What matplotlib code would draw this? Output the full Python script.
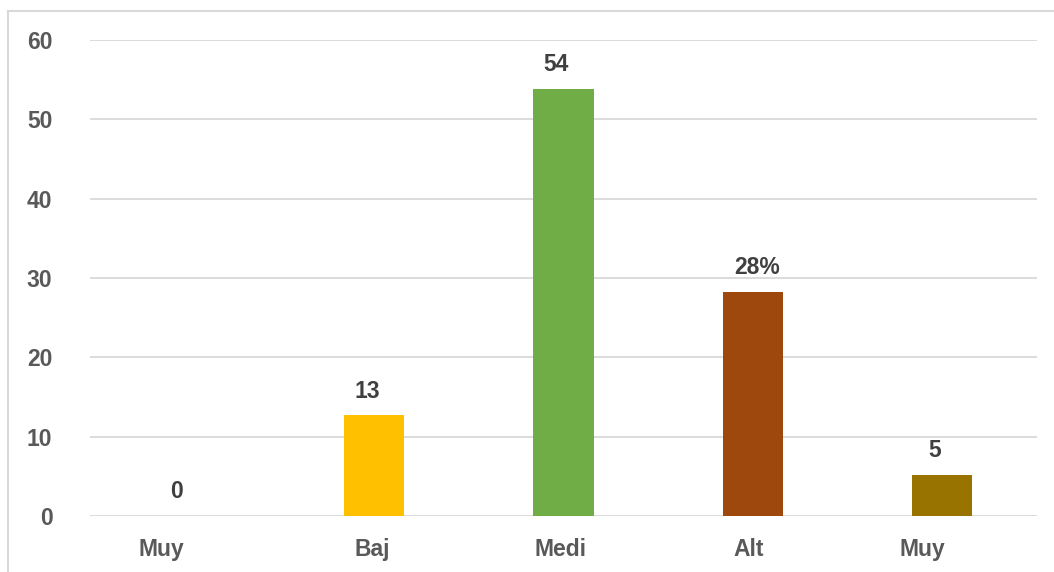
import matplotlib
matplotlib.use("Agg")
import matplotlib.pyplot as plt
from matplotlib.lines import Line2D
from matplotlib.transforms import ScaledTranslation

categories = ["Muy", "Baj", "Medi", "Alt", "Muy"]
values = [0, 12.7, 53.85, 28.25, 5.17]
value_labels = ["0", "13", "54", "28%", "5"]
colors = ["#5B9BD5", "#FFC000", "#70AD47", "#9E480E", "#997300"]
yticks = [0, 10, 20, 30, 40, 50, 60]

# horizontal nudges (pixels) as in the original rendering
label_shift_px = [-23, -2, -3, -4, -20]
value_shift_px = [-8, -7, -7, 4, -8]

plt.rcParams['font.family'] = ['Liberation Sans', 'DejaVu Sans']

W, H = 1054, 572
fig = plt.figure(figsize=(W / 100, H / 100), dpi=100)
ax = fig.add_axes([90 / W, 1 - 516 / H, (1037 - 90) / W, (516 - 40) / H])

x = list(range(len(categories)))
ax.bar(x, values, width=0.317, color=colors, zorder=3)
ax.set_xlim(-0.5, len(categories) - 0.5)
ax.set_ylim(0, 60)
ax.set_yticks(yticks)
ax.set_yticklabels([str(t) for t in yticks])
ax.set_xticks(x)
ax.set_xticklabels(categories)

for xi, v, lab, dx in zip(x, values, value_labels, value_shift_px):
    ax.annotate(lab, (xi, v), xytext=(dx * 0.72, 9), textcoords="offset points",
                ha="center", va="bottom", fontsize=16.5, fontweight="bold",
                color="#404040")

ax.yaxis.grid(True, color="#D9D9D9", linewidth=1.3, zorder=0)
ax.set_axisbelow(True)
for s in ax.spines.values():
    s.set_visible(False)
ax.tick_params(axis="both", length=0, labelsize=16.5, labelcolor="#595959")
ax.tick_params(axis="y", pad=27)
ax.tick_params(axis="x", pad=16)
for t in ax.get_xticklabels() + ax.get_yticklabels():
    t.set_fontweight("bold")
for t, dx in zip(ax.get_xticklabels(), label_shift_px):
    t.set_transform(t.get_transform() + ScaledTranslation(dx / 100, 0, fig.dpi_scale_trans))

# outer chart border (top and left edges visible)
fig.add_artist(Line2D([8 / W, 8 / W], [0, 1 - 11 / H], transform=fig.transFigure,
                      color="#D9D9D9", linewidth=1.5))
fig.add_artist(Line2D([8 / W, 1], [1 - 11 / H, 1 - 11 / H], transform=fig.transFigure,
                      color="#D9D9D9", linewidth=1.5))

fig.savefig("out.png", dpi=100, facecolor="white")
